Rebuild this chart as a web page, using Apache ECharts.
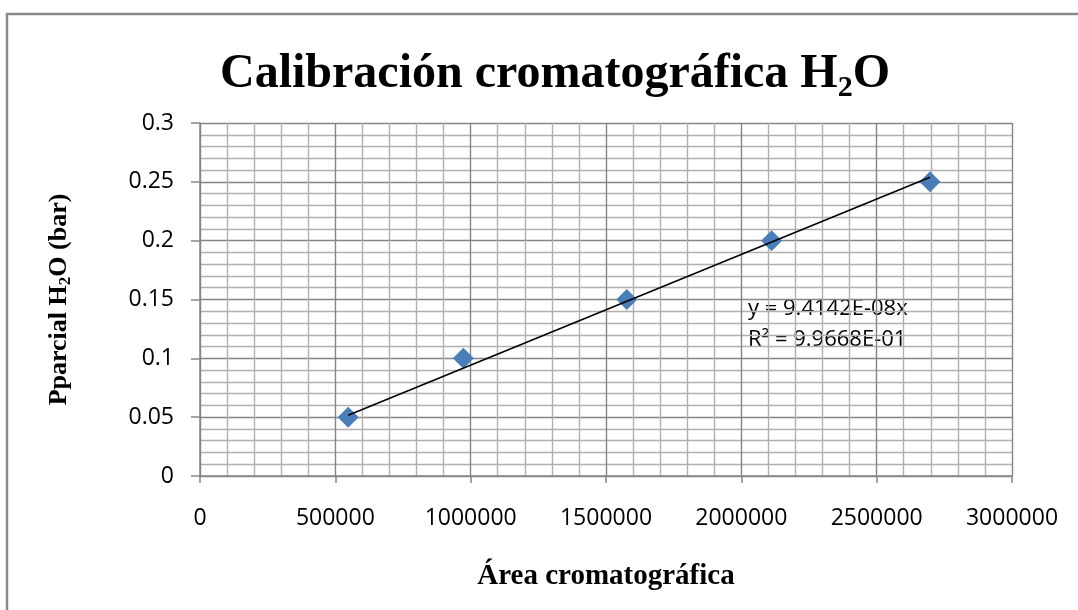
<!DOCTYPE html>
<html>
<head>
<meta charset="utf-8">
<script src="https://cdn.jsdelivr.net/npm/echarts@6/dist/echarts.min.js"></script>
<style>html,body{margin:0;padding:0;background:#fff}#c{width:1078px;height:610px}</style>
</head>
<body>
<div id="c"></div>
<script>
// Data
const areas = [547500, 973000, 1577000, 2112000, 2697000];
const pressures = [0.05, 0.10, 0.15, 0.20, 0.25];
const slope = 9.4142e-8;
const trendText = ['y = 9.4142E-08x', 'R² = 9.9668E-01'];
const yTicks = [0, 0.05, 0.1, 0.15, 0.2, 0.25, 0.3];
const xTicks = [0, 500000, 1000000, 1500000, 2000000, 2500000, 3000000];

const scatterData = areas.map((a, i) => [a, pressures[i]]);
const xMin = Math.min(...areas), xMax = Math.max(...areas);
const trendData = [[xMin, slope * xMin], [xMax, slope * xMax]];

const serif = '"Liberation Serif", "Times New Roman", serif';
const sans = '"Open Sans", "Noto Sans", sans-serif';

const chart = echarts.init(document.getElementById('c'), null, {renderer: 'canvas'});
chart.setOption({
  backgroundColor: '#ffffff',
  animation: false,
  title: {
    text: '{a|Calibración cromatográfica H}{s|2}{a|O}',
    left: 550, top: 42, textAlign: 'center',
    textStyle: {
      rich: {
        a: {fontFamily: serif, fontWeight: 'bold', fontSize: 48, lineHeight: 56, color: '#000'},
        s: {fontFamily: serif, fontWeight: 'bold', fontSize: 30, lineHeight: 24, verticalAlign: 'bottom', color: '#000'}
      }
    }
  },
  grid: {left: 200, right: 66, top: 123, bottom: 134, containLabel: false},
  xAxis: {
    type: 'value', min: xTicks[0], max: xTicks[xTicks.length - 1], interval: 500000,
    name: 'Área cromatográfica', nameLocation: 'middle', nameGap: 86,
    nameTextStyle: {fontFamily: serif, fontWeight: 'bold', fontSize: 29, color: '#000'},
    axisLine: {show: true, lineStyle: {color: '#868686', width: 1.5}},
    axisTick: {show: true, length: 7, lineStyle: {color: '#868686', width: 1.5}},
    axisLabel: {fontFamily: sans, fontSize: 23, color: '#000', margin: 31, formatter: v => String(v)},
    splitLine: {show: true, lineStyle: {color: '#858585', width: 1.4}},
    minorTick: {show: false, splitNumber: 5},
    minorSplitLine: {show: true, lineStyle: {color: '#b0b0b0', width: 1.4}}
  },
  yAxis: {
    type: 'value', min: yTicks[0], max: yTicks[yTicks.length - 1], interval: 0.05,
    name: '{a|Pparcial H}{s|2}{a|O (bar)}', nameLocation: 'middle', nameGap: 126, nameRotate: 90,
    nameTextStyle: {
      rich: {
        a: {fontFamily: serif, fontWeight: 'bold', fontSize: 26, lineHeight: 30, color: '#000'},
        s: {fontFamily: serif, fontWeight: 'bold', fontSize: 17, lineHeight: 14, verticalAlign: 'bottom', color: '#000'}
      }
    },
    axisLine: {show: true, lineStyle: {color: '#868686', width: 1.5}},
    axisTick: {show: true, length: 9, lineStyle: {color: '#868686', width: 1.5}},
    axisLabel: {fontFamily: sans, fontSize: 23, color: '#000', margin: 26, formatter: v => String(Math.round(v * 100) / 100)},
    splitLine: {show: true, lineStyle: {color: '#858585', width: 1.4}},
    minorTick: {show: false, splitNumber: 5},
    minorSplitLine: {show: true, lineStyle: {color: '#b0b0b0', width: 1.4}}
  },
  series: [
    {
      type: 'scatter', data: scatterData, symbol: 'diamond', symbolSize: 21, z: 2,
      itemStyle: {color: '#4A7EBB', opacity: 1}
    },
    {
      type: 'line', data: trendData, showSymbol: false, symbol: 'none', z: 3,
      lineStyle: {color: '#000', width: 1.6}, silent: true
    }
  ],
  graphic: [
    {
      type: 'polyline', silent: true,
      shape: {points: [[7, 610], [7, 14], [1078, 14]]},
      style: {stroke: '#8a8a8a', lineWidth: 2.5, fill: null}
    },
    {
      type: 'text', left: 748, top: 293, silent: true,
      style: {text: trendText.join('\n'), fontFamily: sans, fontSize: 22, lineHeight: 31, fill: '#000', stroke: 'none', lineWidth: 0}
    }
  ]
});
</script>
</body>
</html>
